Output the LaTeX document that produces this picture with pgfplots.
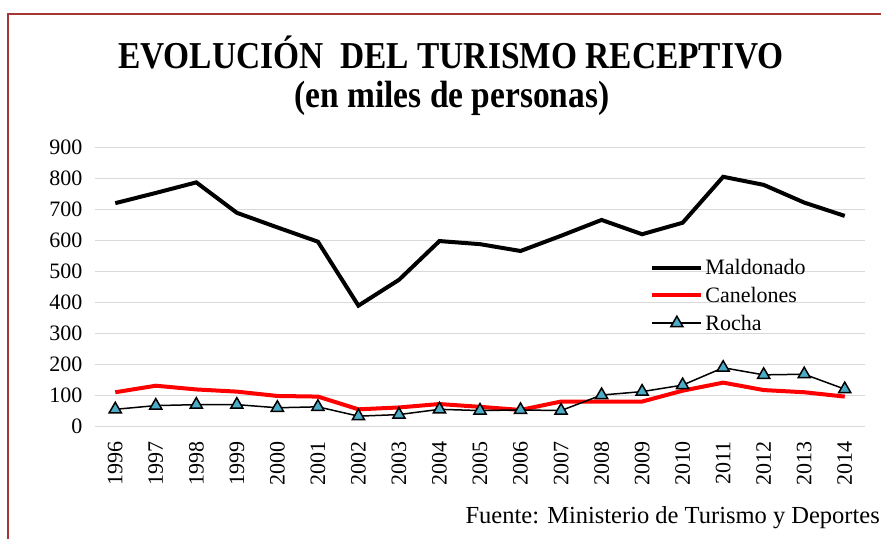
\documentclass[border=0pt]{standalone}
\usepackage{fontspec}
\setmainfont{Liberation Serif}
\usepackage{pgfplots}
\usepackage{pgfplotstable}
\pgfplotsset{compat=1.18}
\definecolor{frame}{RGB}{165,55,55}
\definecolor{rochafill}{RGB}{75,172,198}
\definecolor{gridc}{RGB}{217,217,217}
\pgfplotstableread{
x year mal can roc
0 1996 720 111 56
1 1997 753 132 68
2 1998 787 120 71
3 1999 689 113 71
4 2000 642 99 61
5 2001 596 97 64
6 2002 390 56 34
7 2003 473 62 39
8 2004 598 73 56
9 2005 588 64 52
10 2006 566 54 54
11 2007 615 81 52
12 2008 666 81 102
13 2009 620 81 113
14 2010 657 116 134
15 2011 805 142 190
16 2012 779 118 167
17 2013 722 111 169
18 2014 679 97 121
}\datatable
\begin{document}
\begin{tikzpicture}
\path[use as bounding box] (0pt,0pt) rectangle (881pt,539pt);
\draw[frame, line width=2pt] (8pt,0pt) -- (8pt,525pt) -- (881pt,525pt);
\node[font=\bfseries\fontsize{38}{38}\selectfont, xscale=0.88] at (451pt,487pt) {EVOLUCIÓN~ DEL TURISMO RECEPTIVO};
\node[font=\bfseries\fontsize{38}{38}\selectfont, xscale=0.88] at (452pt,441pt) {(en miles de personas)};
\node[font=\fontsize{24.5}{24.5}\selectfont, anchor=east, inner sep=0pt] at (880pt,21pt) {Fuente: Ministerio de Turismo y Deportes};
\begin{axis}[
  at={(95pt,112.3pt)}, anchor=south west,
  scale only axis, width=770pt, height=279.4pt,
  xmin=-0.5, xmax=18.5, ymin=0, ymax=900,
  ytick={0,100,...,900},
  xtick={0,...,18},
  xticklabels={1996,1997,1998,1999,2000,2001,2002,2003,2004,2005,2006,2007,2008,2009,2010,2011,2012,2013,2014},
  x tick label style={rotate=90, anchor=east, font=\fontsize{22}{22}\selectfont},
  y tick label style={font=\fontsize{22}{22}\selectfont},
  /pgf/number format/assume math mode=true,
  ymajorgrids, major grid style={draw=gridc, line width=1.2pt},
  axis line style={draw=none},
  tick style={draw=none},
  xticklabel shift=11pt, yticklabel shift=9pt,
  clip=false,
  legend style={at={(0.721,0.607)}, anchor=north west, draw=none, fill=none,
    font=\fontsize{22}{22}\selectfont, row sep=7pt, inner sep=0pt,
    /tikz/every even column/.append style={column sep=4pt}},
  legend cell align=left,
  legend image code/.code={\draw[#1] (0pt,0pt) -- (49pt,0pt); \draw[#1, only marks] plot coordinates {(24.5pt,0pt)};},
]
\addplot[black, line width=4pt, mark=none] table[x=x, y=mal] {\datatable};
\addlegendentry{Maldonado}
\addplot[red, line width=4pt, mark=none] table[x=x, y=can] {\datatable};
\addlegendentry{Canelones}
\addplot[black, line width=1.5pt, mark=triangle*, mark size=7pt,
  mark options={fill=rochafill, draw=black, line width=1.5pt}] table[x=x, y=roc] {\datatable};
\addlegendentry{Rocha}
\end{axis}
\end{tikzpicture}
\end{document}
